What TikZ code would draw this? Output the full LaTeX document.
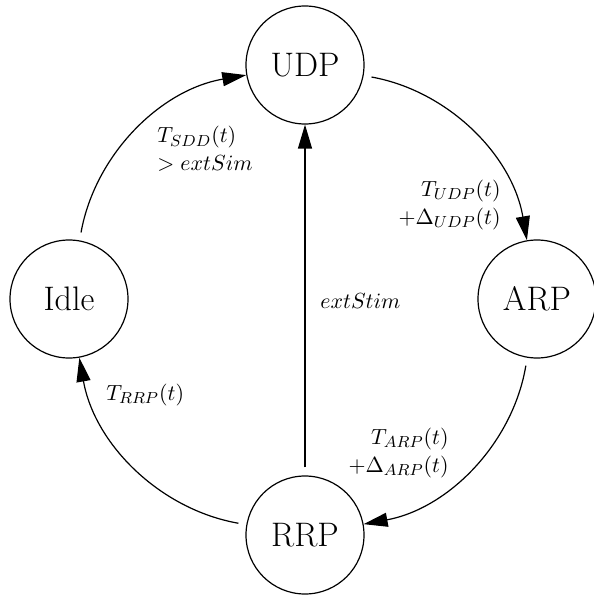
\documentclass[tikz,border=0pt]{standalone}
\usetikzlibrary{arrows.meta}
\begin{document}
\begin{tikzpicture}[x=0.5pt,y=-0.5pt,
  state/.style={circle,draw,line width=0.6pt,minimum size=59pt,inner sep=0pt,font=\fontsize{17}{20}\selectfont},
  trans/.style={line width=0.6pt,-{Triangle[length=12pt,width=7pt]},shorten <=4pt},
  arc/.style={bend left=35,looseness=0.95},
  lbl/.style={inner sep=0pt,font=\fontsize{11}{14}\selectfont}]
\useasboundingbox (0,0) rectangle (593,598);
\node[state] (udp)  at (305,65)  {UDP};
\node[state] (idle) at (69,299)  {Idle};
\node[state] (arp)  at (537,299) {ARP};
\node[state] (rrp)  at (305,535) {RRP};
\draw[trans] (idle) to[arc] (udp);
\draw[trans] (udp) to[arc] (arp);
\draw[trans] (arp) to[arc] (rrp);
\draw[trans] (rrp) to[arc] (idle);
\draw[trans] (rrp) -- (udp);
\node[lbl,align=left,anchor=west] (lsdd) at (157,149) {$T_{SDD}(t)$\\$>extSim$};
\node[lbl,align=right,anchor=east] (ludp) at (501,205) {$T_{UDP}(t)$\\$+\Delta_{UDP}(t)$};
\node[lbl,align=right,anchor=east] (larp) at (449,453) {$T_{ARP}(t)$\\$+\Delta_{ARP}(t)$};
\node[lbl,anchor=west] (lext) at (320,301) {$extStim$};
\node[lbl,anchor=west] (lrrp) at (106,395) {$T_{RRP}(t)$};
\end{tikzpicture}
\end{document}
